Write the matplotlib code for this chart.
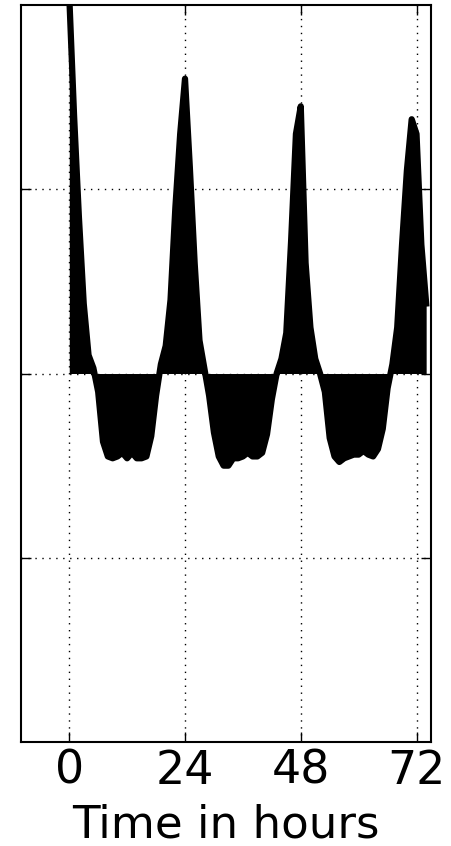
import numpy as np
import matplotlib
matplotlib.use("Agg")
import matplotlib.pyplot as plt

# hourly values
hours = np.arange(0, 75)
values = [2.05, 1.4, 0.85, 0.38, 0.1, 0.03, -0.1, -0.37, -0.45, -0.46,
          -0.45, -0.43, -0.46, -0.43, -0.46, -0.46, -0.45, -0.34, -0.12, 0.05,
          0.15, 0.4, 0.9, 1.3, 1.6, 1.12, 0.6, 0.18, 0.03, -0.12,
          -0.32, -0.45, -0.5, -0.5, -0.46, -0.46, -0.45, -0.43, -0.45, -0.45,
          -0.43, -0.33, -0.14, 0.0, 0.08, 0.22, 0.72, 1.3, 1.45, 0.6,
          0.25, 0.08, 0.0, -0.1, -0.35, -0.45, -0.48, -0.46, -0.45, -0.44,
          -0.44, -0.42, -0.44, -0.45, -0.41, -0.3, -0.08, 0.05, 0.25, 0.7,
          1.1, 1.38, 1.3, 0.7, 0.38]
xticks = [0, 24, 48, 72]
yticks = [-1, 0, 1]

fig = plt.figure(figsize=(4.52, 8.46), dpi=100)
ax = fig.add_axes([0.0465, 0.1229, 0.907, 0.8712])

ax.fill_between(hours, 0, values, color="black", lw=0)
ax.plot(hours, values, color="black", lw=4.5, solid_joinstyle="round")

ax.set_xlim(-10, 75)
ax.set_ylim(-2, 2)
ax.set_xticks(xticks)
ax.set_yticks(yticks)
ax.set_yticklabels([])
ax.grid(True, color="black", linestyle=(0, (1, 4)), linewidth=1)
ax.tick_params(direction="in", top=True, right=True, length=7, width=1,
               labelsize=33, pad=5)
for s in ax.spines.values():
    s.set_linewidth(1.5)
ax.set_xlabel("Time in hours", fontsize=32.5, labelpad=7)

fig.savefig("out.png", dpi=100)
